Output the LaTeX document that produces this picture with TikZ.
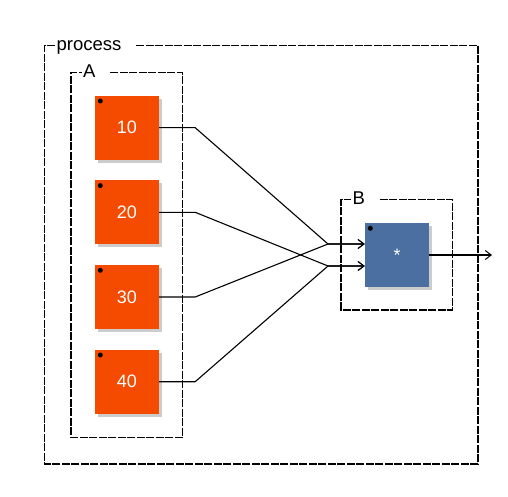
\documentclass[tikz,border=0pt]{standalone}
\usepackage{fontspec}
\setmainfont{Liberation Sans}
\usetikzlibrary{arrows.meta,shadows}
\definecolor{boxred}{HTML}{F54B00}
\definecolor{boxblue}{HTML}{4A6FA0}
\begin{document}
\begin{tikzpicture}[x=1pt,y=-1pt,
  frame/.style={draw=black, line width=1.2pt, dash pattern=on 8pt off 1.5pt},
  flab/.style={anchor=base west, inner xsep=1.5pt, inner ysep=0pt, font=\fontsize{18.5}{20}\selectfont},
  blk/.style={minimum size=64pt, inner sep=0pt, text=white, font=\fontsize{18}{20}\selectfont,
    drop shadow={shadow xshift=3pt, shadow yshift=-3pt, fill=black!20, opacity=1}},
  redblk/.style={blk, fill=boxred},
  blueblk/.style={blk, fill=boxblue},
  wire/.style={draw=black, line width=1.1pt},
  arr/.style={wire, -{Straight Barb[length=6pt,width=9pt,line width=1pt]}}
]
\useasboundingbox (0,0) rectangle (508,497);

% process frame
\coordinate (pTL) at (44.5,45.5);
\coordinate (pBR) at (478,464);
\node[flab] (plab) at (55,50.5) {process};
\draw[frame] ([xshift=13pt]plab.east |- pTL) -- (pTL -| pBR) -- (pBR) -- (pBR -| pTL) -- (pTL) -- (plab.west |- pTL);

% A frame
\coordinate (aTL) at (71,72.5);
\coordinate (aBR) at (182.5,437.5);
\node[flab] (alab) at (81.5,77.5) {A};
\draw[frame] ([xshift=13pt]alab.east |- aTL) -- (aTL -| aBR) -- (aBR) -- (aBR -| aTL) -- (aTL) -- (alab.west |- aTL);

% B frame
\coordinate (bTL) at (341,199.5);
\coordinate (bBR) at (452.5,310);
\node[flab] (blab) at (351,204.5) {B};
\draw[frame] ([xshift=13pt]blab.east |- bTL) -- (bTL -| bBR) -- (bBR) -- (bBR -| bTL) -- (bTL) -- (blab.west |- bTL);

% blocks
\node[redblk] (r10) at (127,127.7) {10};
\node[redblk] (r20) at (127,212.3) {20};
\node[redblk] (r30) at (127,297) {30};
\node[redblk] (r40) at (127,381.7) {40};
\node[blueblk] (mul) at (397,255) {*};

\foreach \n in {r10,r20,r30,r40,mul}{
  \fill ([shift={(5.5,5.5)}]\n.north west) circle (2.5);
}

% junctions
\coordinate (j1) at (328,244);
\coordinate (j2) at (328,266);
\coordinate (out) at (492,255);

\draw[arr] (r10.east) -- ++(36,0) -- (j1) -- (j1 -| mul.west);
\draw[arr] (r30.east) -- ++(36,0) -- (j1) -- (j1 -| mul.west);
\draw[arr] (r20.east) -- ++(36,0) -- (j2) -- (j2 -| mul.west);
\draw[arr] (r40.east) -- ++(36,0) -- (j2) -- (j2 -| mul.west);
\draw[arr] (mul.east) -- (out);
\end{tikzpicture}
\end{document}
